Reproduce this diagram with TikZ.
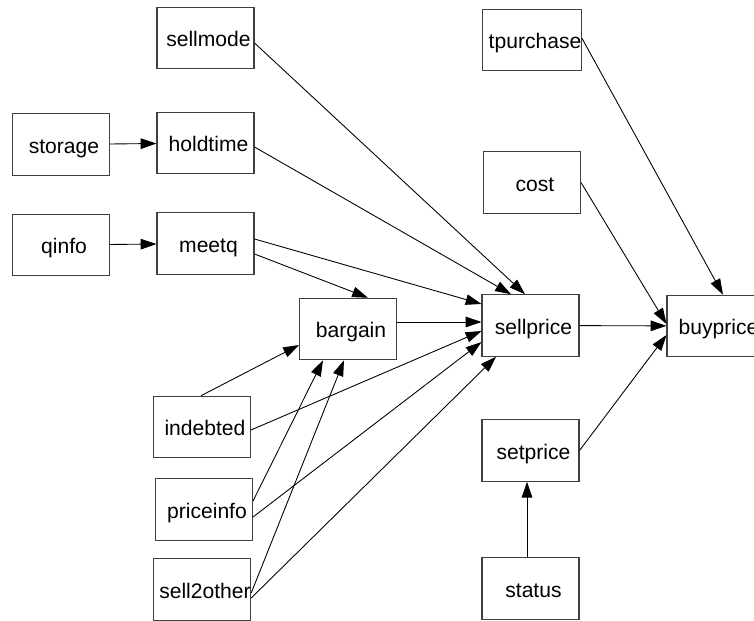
\documentclass[tikz,border=0pt]{standalone}
\usepackage{fontspec}
\setmainfont{Liberation Sans}
\usetikzlibrary{arrows.meta,calc}

\begin{document}
\begin{tikzpicture}[x=0.02cm, y=-0.02cm,
    var/.style={rectangle, draw=black!75, line width=0.6pt, minimum width=1.94cm,
      minimum height=1.23cm, inner sep=0pt, text height=11pt, text depth=1pt,
      execute at begin node={\hspace*{3.4pt}}, font=\fontsize{12}{14}\selectfont},
    link/.style={-{Triangle[length=9pt,width=6pt]}, line width=0.5pt}]
  \useasboundingbox (0,0) rectangle (754,621);
  \clip (0,0) rectangle (754,621);

  % Left column
  \node[var] (storage) at (61,144.5) {storage};
  \node[var] (qinfo) at (61,245) {qinfo};

  % Second column
  \node[var] (sellmode) at (205.5,38) {sellmode};
  \node[var] (holdtime) at (205.5,143) {holdtime};
  \node[var] (meetq) at (205.5,243.5) {meetq};
  \node[var] (indebted) at (202,427) {indebted};
  \node[var] (priceinfo) at (204,509.5) {priceinfo};
  \node[var] (sell2other) at (202,589.5) {sell2other};

  % Bargain
  \node[var] (bargain) at (348,329) {bargain};

  % Price nodes
  \node[var] (tpurchase) at (532,40) {tpurchase};
  \node[var] (cost) at (532,182.5) {cost};
  \node[var] (sellprice) at (530.5,325.5) {sellprice};
  \node[var] (setprice) at (530.5,450.5) {setprice};
  \node[var] (status) at (530.5,588.5) {status};
  \node[var] (buyprice) at (715.5,326) {buyprice};

  % Connect nodes
  \draw[link] (storage) -- (holdtime);
  \draw[link] (qinfo) -- (meetq);
  \draw[link] ($(sellmode.east)+(0,5)$) -- ($(sellprice.north)+(-5.5,0)$);
  \draw[link] ($(holdtime.east)+(0,4)$) -- ($(sellprice.north)+(-19.5,0)$);
  \draw[link] ($(meetq.east)+(0,-4.5)$) -- ($(sellprice.west)+(0,-21.5)$);
  \draw[link] ($(meetq.east)+(0,10.5)$) -- ($(bargain.north)+(20,0)$);
  \draw[link] ($(bargain.east)+(0,-7)$) -- ($(sellprice.west)+(0,-3.5)$);
  \draw[link] ($(indebted.north)+(-1,0)$) -- ($(bargain.west)+(0,16)$);
  \draw[link] ($(indebted.east)+(0,3)$) -- ($(sellprice.west)+(0,5.5)$);
  \draw[link] ($(priceinfo.east)+(0,-8.5)$) -- ($(bargain.south)+(-25,0)$);
  \draw[link] ($(priceinfo.east)+(0,7.5)$) -- ($(sellprice.west)+(0,16.5)$);
  \draw[link] ($(sell2other.east)+(0,3.5)$) -- ($(bargain.south)+(-4,0)$);
  \draw[link] ($(sell2other.east)+(0,8.5)$) -- ($(sellprice.south)+(-34.5,0)$);
  \draw[link] (sellprice) -- (buyprice);
  \draw[link] ($(tpurchase.east)+(0,-2)$) -- ($(buyprice.north)+(7.5,0)$);
  \draw[link] (cost.east) -- ($(buyprice.west)+(0,-2)$);
  \draw[link] (setprice.east) -- ($(buyprice.west)+(0,9)$);
  \draw[link] ($(status.north)+(-3.5,0)$) -- ($(setprice.south)+(-3.5,0)$);
\end{tikzpicture}
\end{document}
